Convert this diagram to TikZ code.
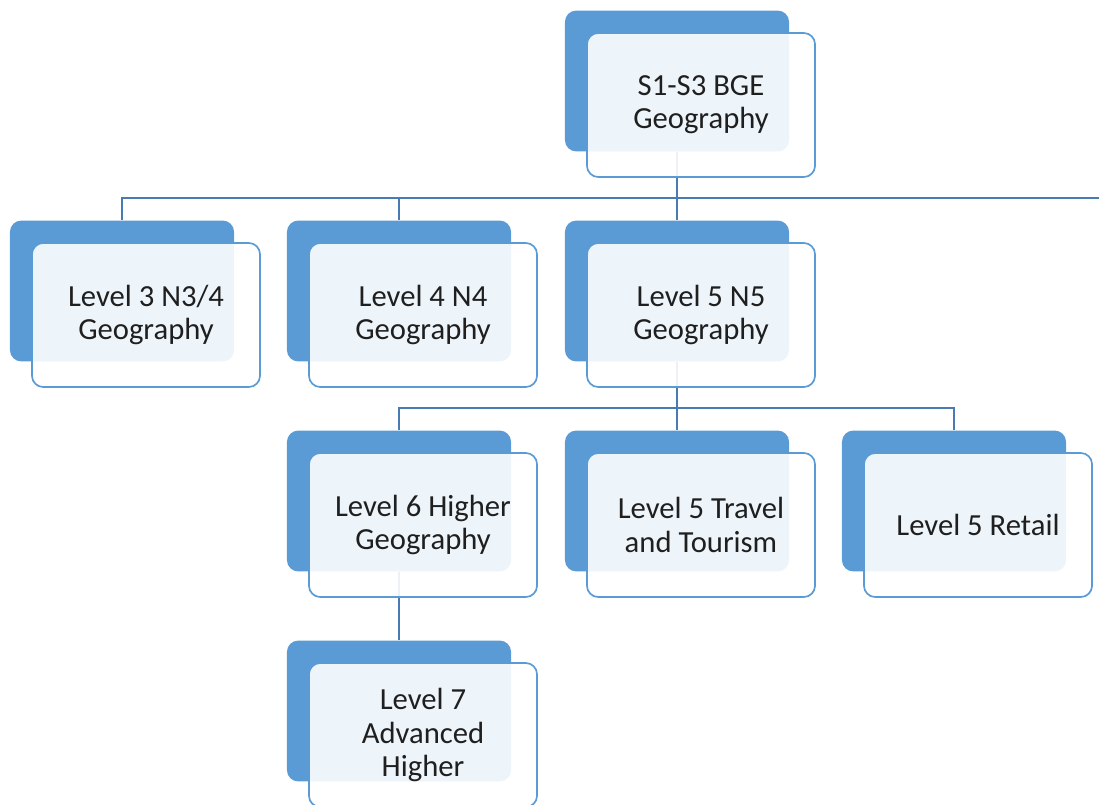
\documentclass[tikz,border=0pt]{standalone}
\usepackage{fontspec}
\setmainfont{Carlito}
\definecolor{boxblue}{RGB}{91,155,213}
\definecolor{linkblue}{RGB}{72,122,180}
\begin{document}
\begin{tikzpicture}[x=0.025cm,y=-0.025cm,
	back/.style={rectangle,rounded corners=8pt,fill=boxblue,minimum width=5.6cm,minimum height=3.52cm},
	front/.style={rectangle,rounded corners=8pt,draw=boxblue,line width=1.2pt,fill=white,fill opacity=0.9,text opacity=1,
		minimum width=5.7cm,minimum height=3.6cm,align=center,text=black!88,font=\fontsize{21.8}{23.6}\selectfont},
	link/.style={draw=linkblue,line width=2pt}]
	\useasboundingbox (0,0) rectangle (1099,804);
	\foreach \name/\x/\y in {bge/677/81,lthree/122/291,lfour/399/291,lfive/677/291,
		lsix/399/501,tour/677/501,retail/954/501,lseven/399/711}
		\node[back] (\name-b) at (\x,\y) {};
	\coordinate (busone) at (0,198);
	\coordinate (bustwo) at (0,408);
	\coordinate (rightend) at (1099,198);
	\draw[link] (bge-b.south) |- (rightend);
	\draw[link] (bge-b.south |- busone) -| (lthree-b.north);
	\draw[link] (bge-b.south |- busone) -| (lfour-b.north);
	\draw[link] (bge-b.south) -- (lfive-b.north);
	\draw[link] (lfive-b.south) |- (bustwo -| retail-b.north) -- (retail-b.north);
	\draw[link] (lfive-b.south |- bustwo) -| (lsix-b.north);
	\draw[link] (lfive-b.south) -- (tour-b.north);
	\draw[link] (lsix-b.south) -- (lseven-b.north);
	\foreach \name/\txt in {bge/{S1-S3 BGE\\Geography},lthree/{Level 3 N3/4\\Geography},
		lfour/{Level 4 N4\\Geography},lfive/{Level 5 N5\\Geography},
		lsix/{Level 6 Higher\\Geography},tour/{Level 5 Travel\\and Tourism},
		retail/{Level 5 Retail},lseven/{Level 7\\Advanced\\Higher}}
		\node[front] (\name) at ([shift={(24,24)}]\name-b.center) {\txt};
\end{tikzpicture}
\end{document}
